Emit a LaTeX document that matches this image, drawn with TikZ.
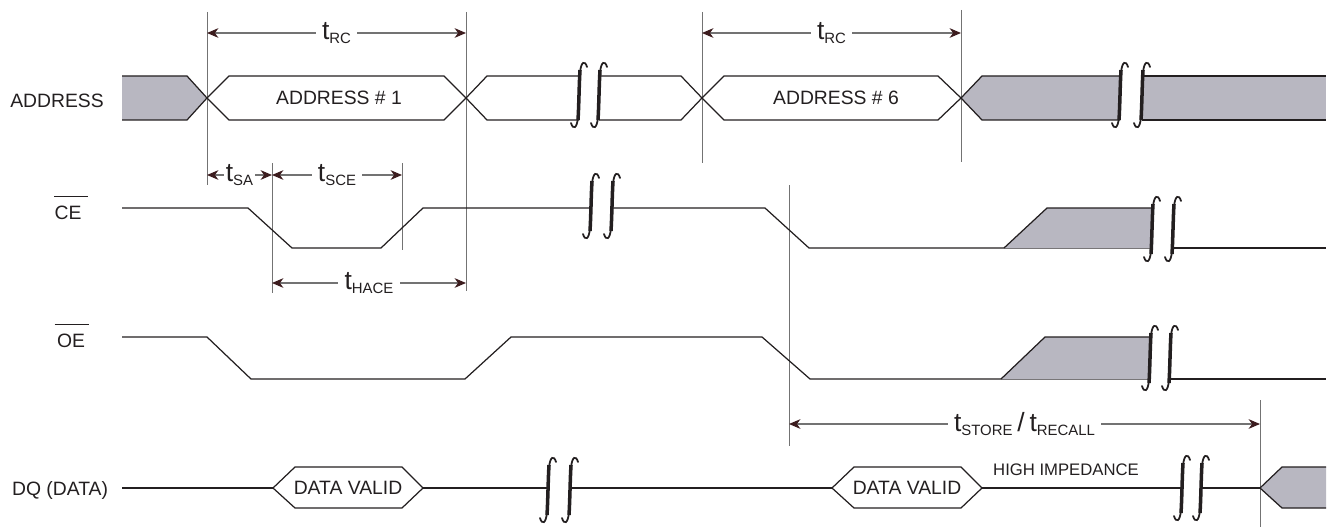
\documentclass[tikz,border=0pt]{standalone}
\usepackage{fontspec}
\setmainfont{Liberation Sans}
\usetikzlibrary{arrows.meta}
\definecolor{ink}{RGB}{35,31,32}
\definecolor{hiz}{RGB}{184,183,193}
\definecolor{rule}{RGB}{115,115,115}
\definecolor{tipc}{RGB}{60,28,30}
\newcommand{\tp}[1]{{\fontsize{15}{17}\selectfont t}\raisebox{-1.8pt}{\fontsize{8.5}{10}\selectfont #1}}
\begin{document}
\begin{tikzpicture}[x=0.02cm,y=-0.02cm,
    >={Stealth[length=6.5pt,width=5.5pt,inset=2pt,color=tipc]},
    sig/.style={draw=ink,line width=0.7pt},
    grey/.style={sig,fill=hiz},
    guide/.style={draw=rule,line width=0.5pt},
    dim/.style={draw=rule,line width=0.6pt,<->},
    tlbl/.style={fill=white,inner xsep=3.5pt,inner ysep=1pt,text=ink},
    txt/.style={inner sep=0pt,text=ink,font=\fontsize{11}{13}\selectfont},
    small/.style={inner sep=0pt,text=ink,font=\fontsize{9.5}{11}\selectfont},
    brk/.pic={
      \draw[ink,line width=1pt,line cap=round]
        (-8,28) .. controls (-6,35) and (-2,34) .. (-1,22)
        .. controls (0,8) and (0,-8) .. (1,-22)
        .. controls (2,-34) and (6,-35) .. (8,-28);
      \draw[ink,line width=2pt] (-1,25) .. controls (0,8) and (0,-8) .. (1,-25);}]
  \useasboundingbox (0,0) rectangle (1328,527);

  \node[txt] (addr) at (57,101) {ADDRESS};
  \node[txt] (ce) at (68,213) {CE};
  \node[txt] (oe) at (71,341) {OE};
  \node[txt] (dq) at (60,490) {DQ (DATA)};
  \draw[sig,line width=0.6pt] (ce.north west) ++(0,-9) -- ++(34,0);
  \draw[sig,line width=0.6pt] (oe.north west) ++(-2,-9) -- ++(34,0);

  \foreach \x/\a/\b in {207/12/185, 466/12/291, 272/163/293, 402/163/250,
      702/12/163, 961/10/162, 789/185/446, 1260/400/527}
    \draw[guide] (\x,\a) -- (\x,\b);

  % ADDRESS
  \draw[grey] (122,76) -- (187,76) -- (207,98) -- (187,120) -- (122,120);
  \draw[sig] (207,98) -- (229,76) -- (444,76) -- (466,98) -- (444,120) -- (229,120) -- cycle;
  \draw[sig] (579,76) -- (487,76) -- (466,98) -- (487,120) -- (579,120);
  \draw[sig] (599,76) -- (681,76) -- (702,98) -- (681,120) -- (599,120);
  \draw[sig] (702,98) -- (724,76) -- (938,76) -- (961,98) -- (938,120) -- (724,120) -- cycle;
  \draw[grey] (1120,76) -- (982,76) -- (961,98) -- (982,120) -- (1120,120);
  \fill[hiz] (1142,76) rectangle (1326,120);
  \draw[sig] (1142,76) -- (1326,76) (1142,120) -- (1326,120);
  \node[txt] (a1) at (339,98) {ADDRESS \# 1};
  \node[txt] (a6) at (836,98) {ADDRESS \# 6};

  % CE
  \draw[sig] (122,208) -- (248,208) -- (292,248) -- (381,248) -- (423,208) -- (591,208);
  \draw[sig] (612,208) -- (765,208) -- (809,248) -- (1152,248);
  \draw[grey] (1004,248) -- (1047,208) -- (1152,208) -- (1152,248);
  \draw[sig] (1173,248) -- (1326,248);

  % OE
  \draw[sig] (122,337) -- (207,337) -- (251,379) -- (465,379) -- (511,337)
    -- (762,337) -- (810,379) -- (1150,379);
  \draw[grey] (1001,379) -- (1045,337) -- (1150,337) -- (1150,379);
  \draw[sig] (1170,379) -- (1326,379);

  % DQ
  \draw[sig] (122,488) -- (273,488) (423,488) -- (548,488) (570,488) -- (832,488)
    (982,488) -- (1182,488) (1201,488) -- (1260,488);
  \draw[sig] (273,488) -- (295,467) -- (402,467) -- (423,488) -- (402,508) -- (295,508) -- cycle;
  \draw[sig] (832,488) -- (854,467) -- (961,467) -- (982,488) -- (961,508) -- (854,508) -- cycle;
  \draw[grey] (1326,467) -- (1282,467) -- (1260,488) -- (1282,508) -- (1326,508);
  \node[txt] (dv1) at (348,488) {DATA VALID};
  \node[txt] (dv2) at (907,488) {DATA VALID};
  \node[small] (hz) at (1066,470) {HIGH IMPEDANCE};

  \foreach \x/\y in {579/95, 599/95, 1120/95, 1142/95, 591/206, 612/206,
      1152/229, 1173/229, 1150/358, 1170/358, 548/490, 570/490, 1182/488, 1201/488}
    \pic at (\x,\y) {brk};

  % timing
  \coordinate (rc1a) at (207,33);  \coordinate (rc1b) at (466,33);
  \coordinate (rc2a) at (702,33);  \coordinate (rc2b) at (961,33);
  \coordinate (saa) at (207,175);  \coordinate (sab) at (272,175);
  \coordinate (scea) at (272,175); \coordinate (sceb) at (402,175);
  \coordinate (ha) at (272,283);   \coordinate (hb) at (466,283);
  \coordinate (sta) at (789,424);  \coordinate (stb) at (1260,424);
  \draw[dim] (rc1a) -- node[tlbl] (trc1) {\tp{RC}} (rc1b);
  \draw[dim] (rc2a) -- node[tlbl] (trc2) {\tp{RC}} (rc2b);
  \draw[dim] (saa) -- node[tlbl,inner xsep=1pt] (tsa) {\tp{SA}} (sab);
  \draw[dim] (scea) -- node[tlbl] (tsce) {\tp{SCE}} (sceb);
  \draw[dim] (ha) -- node[tlbl] (thace) {\tp{HACE}} (hb);
  \draw[dim] (sta) -- node[tlbl] (tst) {\tp{STORE} {\fontsize{15}{17}\selectfont /} \tp{RECALL}} (stb);
\end{tikzpicture}
\end{document}
